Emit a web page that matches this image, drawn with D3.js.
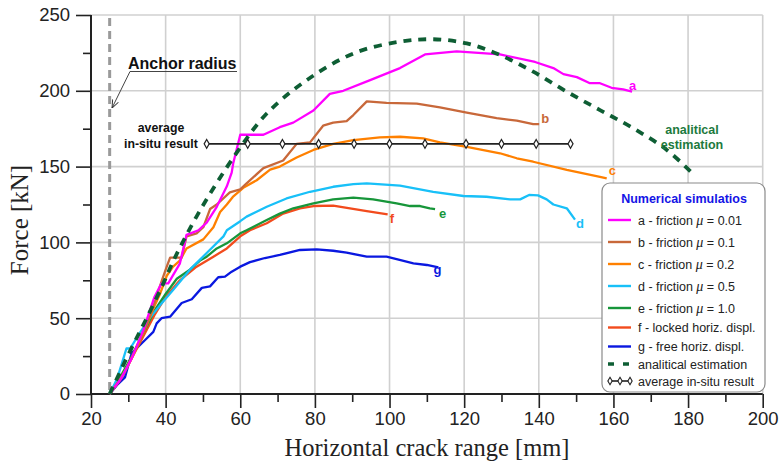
<!DOCTYPE html>
<html>
<head>
<meta charset="utf-8">
<script src="https://cdn.jsdelivr.net/npm/d3@7"></script>
<style>
  body { margin: 0; background: #fff; }
  svg { display: block; font-family: Arial, "Liberation Sans", sans-serif; }
</style>
</head>
<body>
<div id="chart"></div>
<script>
// values: [crack range mm, force kN]
const seriesA = [[25,0],[28,10],[31,24],[34,42],[37,64],[38.9,73],[40.7,73],[43.8,86],[45.6,105],[48.8,108],[51,113],[53.7,123.5],[56.4,137],[57.7,146],[58.1,152],[60,171],[66.2,171],[70.6,176],[74.2,179],[79.6,187],[84,198],[87.6,200],[94.8,207],[102.8,215],[109.5,224],[118,226],[129.6,224],[139,219],[143.9,215],[146.6,211],[150.2,209],[153.7,205],[156.4,205],[159.5,202],[162.6,201],[165,199.5]];
const seriesB = [[25,0],[29,14],[32,30],[35,46],[37,60],[39,75],[40.3,84],[41.2,90],[44.3,90],[45.6,104],[48.3,106],[50.1,110],[51.9,122],[53.7,125],[57.2,133],[60,135],[61.7,139],[66.2,149],[71.5,154],[75.1,165],[78.7,166],[82.2,177],[84.9,179],[88.5,180],[90.3,184],[93.9,193],[99.2,192],[107.3,191.5],[113.5,189],[120.7,185.6],[128.7,182],[134.1,180.3],[138.5,178],[140.1,178]];
const seriesC = [[25,0],[28,10],[31,24],[34,40],[37,58],[38.5,66],[40.3,78],[42,84],[43.8,88],[45.6,96],[50.1,102],[52.8,110],[54.6,120],[56.4,125],[58,130],[60.8,136],[64.4,141],[68,148],[70.6,150],[75.1,156],[79.6,161],[84.9,165],[90.3,167.5],[97.4,169.3],[102.8,169.7],[109,168.6],[113.5,166],[120.7,163],[129.6,158.8],[134.1,155.5],[138.5,153.2],[147.5,147.8],[156.4,143.3],[158.2,142.3]];
const seriesD = [[25,0],[27,10],[28.5,22],[29.5,30],[30.5,30],[33,40],[36,51],[39,60],[42.1,69],[46.5,82],[51,93],[55.5,104],[56.4,108],[60,114],[61.7,117],[67.1,123.5],[72.4,129],[78.7,133.4],[84.9,136.7],[90.3,138.5],[93.9,139],[102.8,137.5],[111.7,133.4],[119.8,130.6],[126,130.1],[132.3,128.4],[135,128.4],[137.4,131.3],[139.8,131],[142.1,128.4],[143.9,125],[147.5,122.5],[149.7,115]];
const seriesE = [[25,0],[28,12],[31,25],[34,40],[37,55],[40,66],[43,76],[46.5,82],[49.2,88],[51,90.6],[53.7,96],[56.4,99.4],[60,106],[61.7,108],[67.1,114.8],[70.6,119],[74.2,122.5],[79.6,125.8],[84.9,128.4],[90.3,129.5],[95.6,128.4],[101.9,125.8],[105.5,124],[108.2,124],[110.8,122.5],[112.2,122]];
const seriesF = [[25,0],[28,10],[31,24],[34,38],[37,52],[40,64],[43.8,75],[48.3,84],[52.8,90.6],[56.4,96],[60,104],[62.6,108],[67.1,112.6],[71.5,119],[76,122.5],[79.6,124],[84.9,124.3],[89.4,122.5],[93.9,120.7],[99.5,118.5]];
const seriesG = [[25,0],[27,6],[29.1,11],[30.9,27],[34.5,35.6],[36.7,41],[37.6,46.6],[38.9,50],[41.2,51],[44.3,60],[47,62.5],[49.7,70],[51.9,71],[54.1,77],[55.9,77.4],[57.7,80.7],[60,84],[62.6,87],[66.6,89.7],[70.6,91.7],[76,95],[80.5,95.4],[84.9,94.5],[88.5,93.2],[93.9,90.6],[99.2,90.6],[101.9,89],[106.4,86.2],[110,85.1],[113.1,83.6]];
const analytical = [[25,0],[30,26],[34.5,48],[39.4,73],[42.5,90],[49.2,121],[59,159],[67.1,185],[77.8,207],[90.7,225],[102.8,232.4],[111.7,234],[120.7,231.3],[129.6,223.6],[138.5,212.6],[147.5,199.4],[156.4,187.3],[165.3,175.3],[174.3,161],[181.4,145]];
const insituX = [51, 62, 71.3, 81, 90.5, 100, 109.5, 120.5, 130, 139.3, 148.5];
const insituForce = 165;
const anchorRadius = 25;

const seriesKeys = ["a", "b", "c", "d", "e", "f", "g"];
const seriesNames = ["a - friction ", "b - friction ", "c - friction ", "d - friction ", "e - friction ", "f - locked horiz. displ.", "g - free horiz. displ."];
const muValues = ["0.01", "0.1", "0.2", "0.5", "1.0", null, null];
const xTicks = [20, 40, 60, 80, 100, 120, 140, 160, 180, 200];
const yTicks = [0, 50, 100, 150, 200, 250];

const allSeries = [seriesA, seriesB, seriesC, seriesD, seriesE, seriesF, seriesG];
const colors = ["#ff00ff", "#c8683a", "#ff8000", "#18c0f8", "#17963a", "#f24b1d", "#0a18e0"];
const greenDash = "#0e5e34";

const width = 779, height = 468;
const svg = d3.select("#chart").append("svg")
    .attr("width", width)
    .attr("height", height);

const x = d3.scaleLinear().domain([20, 200]).range([91, 762.7]);
const y = d3.scaleLinear().domain([0, 250]).range([394, 15]);

// grid
const grid = svg.append("g").attr("stroke", "#d0d0d0").attr("stroke-width", 1.6);
grid.selectAll(".vg").data(xTicks.slice(1)).enter().append("line")
    .attr("x1", d => x(d)).attr("x2", d => x(d))
    .attr("y1", y(250)).attr("y2", y(0));
grid.selectAll(".hg").data(yTicks.slice(1)).enter().append("line")
    .attr("x1", x(20)).attr("x2", x(200))
    .attr("y1", d => y(d)).attr("y2", d => y(d));

// axes
const xAxis = d3.axisBottom(x).tickValues(xTicks).tickSize(14).tickPadding(4).tickFormat(d3.format("d"));
const xMinor = d3.axisBottom(x).tickValues(d3.range(30, 200, 20)).tickSize(8).tickFormat("");
const yAxis = d3.axisLeft(y).tickValues(yTicks).tickSize(15).tickPadding(6).tickFormat(d3.format("d"));
const yMinor = d3.axisLeft(y).tickValues(d3.range(25, 250, 50)).tickSize(8).tickFormat("");

function styleAxis(g) {
    g.select(".domain").remove();
    g.selectAll("line").attr("stroke", "#222").attr("stroke-width", 1.6);
    g.selectAll("text").attr("fill", "#222").style("font-size", "18.5px")
        .style("font-family", "Arial, 'Liberation Sans', sans-serif");
}
svg.append("g").attr("transform", `translate(0,${y(0)})`).call(xAxis).call(styleAxis);
svg.append("g").attr("transform", `translate(0,${y(0)})`).call(xMinor).call(styleAxis);
svg.append("g").attr("transform", `translate(${x(20)},0)`).call(yAxis).call(styleAxis);
svg.append("g").attr("transform", `translate(${x(20)},0)`).call(yMinor).call(styleAxis);
svg.append("line").attr("x1", x(20)).attr("x2", x(200)).attr("y1", y(0)).attr("y2", y(0))
    .attr("stroke", "#222").attr("stroke-width", 2);
svg.append("line").attr("x1", x(20)).attr("x2", x(20)).attr("y1", y(250)).attr("y2", y(0))
    .attr("stroke", "#222").attr("stroke-width", 2);

// axis titles
svg.append("text").attr("x", 427).attr("y", 456).attr("text-anchor", "middle")
    .style("font-family", "'Liberation Serif', 'Times New Roman', serif").style("font-size", "24.5px")
    .attr("fill", "#222").text("Horizontal crack range [mm]");
svg.append("text").attr("transform", "translate(28,220) rotate(-90)").attr("text-anchor", "middle")
    .style("font-family", "'Liberation Serif', 'Times New Roman', serif").style("font-size", "25px")
    .attr("fill", "#222").text("Force [kN]");

// anchor radius
svg.append("line").attr("x1", x(anchorRadius)).attr("x2", x(anchorRadius))
    .attr("y1", 18).attr("y2", y(0))
    .attr("stroke", "#9a9a9a").attr("stroke-width", 3).attr("stroke-dasharray", "8,5");

svg.append("defs").append("marker").attr("id", "arr")
    .attr("viewBox", "0 0 10 10").attr("refX", 10).attr("refY", 5)
    .attr("markerWidth", 8).attr("markerHeight", 8).attr("orient", "auto")
    .append("path").attr("d", "M0,1 L10,5 L0,9").attr("fill", "none").attr("stroke", "#333").attr("stroke-width", 1.2);
svg.append("path").attr("d", "M237,71.5 L130,71.5 L112,108")
    .attr("fill", "none").attr("stroke", "#444").attr("stroke-width", 1)
    .attr("marker-end", "url(#arr)");
svg.append("text").attr("x", 128).attr("y", 69).style("font-size", "16px").style("font-weight", "bold")
    .attr("fill", "#111").text("Anchor radius");

// in-situ label
svg.append("text").attr("x", 161).attr("y", 132).attr("text-anchor", "middle")
    .style("font-size", "12.3px").style("font-weight", "bold").attr("fill", "#111").text("average");
svg.append("text").attr("x", 161).attr("y", 148).attr("text-anchor", "middle")
    .style("font-size", "12.3px").style("font-weight", "bold").attr("fill", "#111").text("in-situ result");

// analytical estimation
const smooth = d3.line().x(d => x(d[0])).y(d => y(d[1])).curve(d3.curveCatmullRom.alpha(0.5));
const lin = d3.line().x(d => x(d[0])).y(d => y(d[1]));

// simulation curves (g drawn first, a last)
const curves = svg.append("g");
for (let i = allSeries.length - 1; i >= 0; i--) {
    curves.append("path").datum(allSeries[i])
        .attr("d", lin).attr("fill", "none")
        .attr("stroke", colors[i]).attr("stroke-width", 2.3)
        .attr("stroke-linejoin", "round");
}

svg.append("path").datum(analytical).attr("d", smooth)
    .attr("fill", "none").attr("stroke", greenDash).attr("stroke-width", 3.8)
    .attr("stroke-dasharray", "8,7");

svg.append("text").attr("x", 692).attr("y", 134).attr("text-anchor", "middle")
    .style("font-size", "12.5px").style("font-weight", "bold").attr("fill", "#1d7a3e").text("analitical");
svg.append("text").attr("x", 692).attr("y", 149).attr("text-anchor", "middle")
    .style("font-size", "12.5px").style("font-weight", "bold").attr("fill", "#1d7a3e").text("estimation");

// in-situ line with diamonds
const diamond = d3.symbol().type(d3.symbolDiamond).size(22);
svg.append("line").attr("x1", x(insituX[0])).attr("x2", x(insituX[insituX.length - 1]))
    .attr("y1", y(insituForce)).attr("y2", y(insituForce))
    .attr("stroke", "#222").attr("stroke-width", 1.8);
svg.append("g").selectAll("path").data(insituX).enter().append("path")
    .attr("d", diamond)
    .attr("transform", d => `translate(${x(d)},${y(insituForce)})`)
    .attr("fill", "#fff").attr("stroke", "#222").attr("stroke-width", 1.2);

// end labels of curves
const labelOffset = [[-3, -1.5], [2, -1], [2, -3], [1, 8], [4, 8.5], [2, 9], [-5, 7]];
allSeries.forEach((s, i) => {
    const last = s[s.length - 1];
    svg.append("text")
        .attr("x", x(last[0]) + labelOffset[i][0])
        .attr("y", y(last[1]) + labelOffset[i][1])
        .style("font-size", "13px").style("font-weight", "bold")
        .attr("fill", colors[i]).text(seriesKeys[i]);
});

// legend
const lg = svg.append("g");
lg.append("rect").attr("x", 602).attr("y", 183).attr("width", 163).attr("height", 209)
    .attr("rx", 8).attr("fill", "#fff").attr("stroke", "#8a8a8a").attr("stroke-width", 1.2);
lg.append("text").attr("x", 684).attr("y", 203).attr("text-anchor", "middle")
    .style("font-size", "12.5px").style("font-weight", "bold").attr("fill", "#1414e6")
    .text("Numerical simulatios");

const rowY = [220, 242, 264, 286, 308, 327.5, 346.5, 364, 381];
seriesNames.forEach((name, i) => {
    lg.append("line").attr("x1", 608).attr("x2", 631).attr("y1", rowY[i]).attr("y2", rowY[i])
        .attr("stroke", colors[i]).attr("stroke-width", 2.4);
    const t = lg.append("text").attr("x", 638).attr("y", rowY[i] + 4.5)
        .style("font-size", "12.5px").attr("fill", "#222");
    t.append("tspan").text(name);
    if (muValues[i] !== null) {
        t.append("tspan").style("font-family", "'Liberation Serif', 'Times New Roman', serif")
            .style("font-style", "italic").style("font-size", "14px").text("\u03BC");
        t.append("tspan").text(" = " + muValues[i]);
    }
});
lg.append("line").attr("x1", 608).attr("x2", 631).attr("y1", rowY[7]).attr("y2", rowY[7])
    .attr("stroke", greenDash).attr("stroke-width", 3.6).attr("stroke-dasharray", "6,9");
lg.append("text").attr("x", 638).attr("y", rowY[7] + 4.5).style("font-size", "12.5px")
    .attr("fill", "#222").text("analitical estimation");
lg.append("line").attr("x1", 608).attr("x2", 632).attr("y1", rowY[8]).attr("y2", rowY[8])
    .attr("stroke", "#222").attr("stroke-width", 1.6);
lg.selectAll(".ld").data([610, 620, 630]).enter().append("path")
    .attr("d", d3.symbol().type(d3.symbolDiamond).size(16))
    .attr("transform", d => `translate(${d},${rowY[8]})`)
    .attr("fill", "#fff").attr("stroke", "#222").attr("stroke-width", 1.1);
lg.append("text").attr("x", 638).attr("y", rowY[8] + 4.5).style("font-size", "12.5px")
    .attr("fill", "#222").text("average in-situ result");
</script>
</body>
</html>
